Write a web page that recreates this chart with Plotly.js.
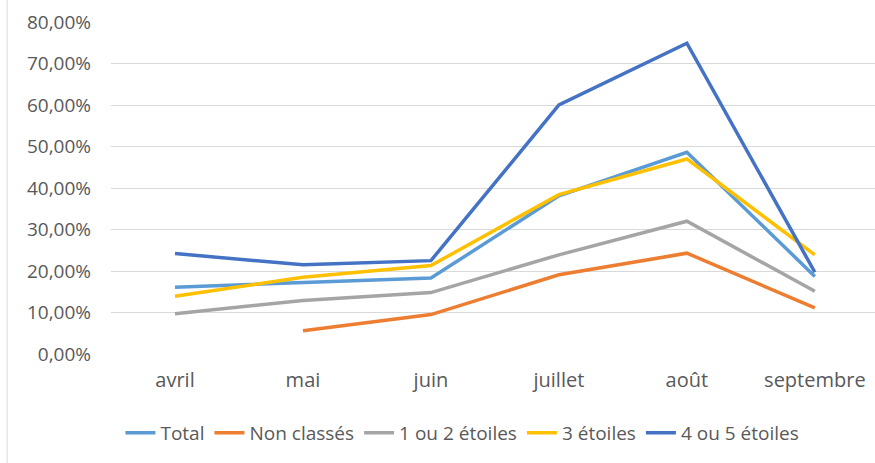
<!DOCTYPE html>
<html><head><meta charset="utf-8">
<script src="https://cdn.plot.ly/plotly-3.0.1.min.js"></script>
<style>html,body{margin:0;padding:0;background:#fff}#chart{width:875px;height:463px}</style>
</head><body><div id="chart"></div>
<script>
const months = ["avril","mai","juin","juillet","août","septembre"];
const total = [0.161, 0.172, 0.183, 0.381, 0.486, 0.187];
const nonClasses = [null, 0.056, 0.095, 0.191, 0.243, 0.111];
const etoiles12 = [0.097, 0.129, 0.148, 0.239, 0.320, 0.151];
const etoiles3 = [0.139, 0.185, 0.213, 0.384, 0.470, 0.239];
const etoiles45 = [0.242, 0.215, 0.225, 0.600, 0.749, 0.197];
const seriesNames = ["Total","Non classés","1 ou 2 étoiles","3 étoiles","4 ou 5 étoiles"];
const colors = ["#5B9BD5","#ED7D31","#A5A5A5","#FFC000","#4472C4"];
const values = [total, nonClasses, etoiles12, etoiles3, etoiles45];

const traces = values.map((v,i)=>({
  type:'scatter', mode:'lines', x: months, y: v, name: seriesNames[i],
  line:{color: colors[i], width:3.5}, connectgaps:false
}));
const font = "'Open Sans', sans-serif";
const layout = {
  width:875, height:463,
  margin:{l:111, r:0, t:22, b:109},
  paper_bgcolor:'#fff', plot_bgcolor:'#fff',
  separators:', ',
  showlegend:true,
  legend:{orientation:'h', x:0.46, xanchor:'center', y:-0.238, yanchor:'middle',
    font:{family:font, size:19, color:'#595959'}, itemwidth:30, tracegroupgap:0},
  xaxis:{type:'category', range:[-0.5, 5.47], showgrid:false, zeroline:false,
    showline:false, ticks:'', tickfont:{family:font, size:20, color:'#595959'},
    ticklabelstandoff:12},
  yaxis:{range:[0,0.8], dtick:0.1, tickformat:'.2%', gridcolor:'#D9D9D9', gridwidth:1,
    zeroline:false, showline:false, ticks:'',
    tickfont:{family:font, size:19, color:'#595959'}, ticklabelstandoff:19},
  shapes:[{type:'line', xref:'paper', yref:'paper', x0:-0.136, x1:-0.136, y0:-0.4, y1:1.1,
    line:{color:'#D9D9D9', width:1}}]
};
Plotly.newPlot('chart', traces, layout, {displayModeBar:false, staticPlot:true});
</script></body></html>
